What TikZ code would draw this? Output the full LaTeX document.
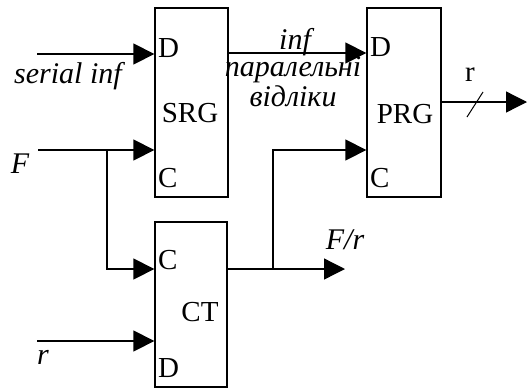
\documentclass[tikz,border=0pt]{standalone}
\usepackage{fontspec}
\setmainfont{Liberation Serif}
\usetikzlibrary{arrows.meta}
\begin{document}
\begin{tikzpicture}[x=1pt,y=-1pt,
  wire/.style={line width=1.3pt},
  arr/.style={wire,-{Triangle[length=21pt,width=21pt]}},
  block/.style={draw,line width=1.3pt,inner sep=0pt},
  lbl/.style={font=\fontsize{29}{32}\selectfont,inner sep=0pt},
  itl/.style={font=\fontsize{30}{33}\selectfont\itshape,inner sep=0pt}]
\useasboundingbox (0,0) rectangle (527,389);
% blocks
\node[block,minimum width=73pt,minimum height=189pt] (srg) at (191.5,102.5) {};
\node[block,minimum width=74pt,minimum height=189pt] (prg) at (404,102.5) {};
\node[block,minimum width=72pt,minimum height=165pt] (ct) at (191,304.5) {};
\node[lbl] (srgt) at (190,113) {SRG};
\node[lbl] (prgt) at (405,114) {PRG};
\node[lbl] (ctt) at (200,312) {CT};
\node[lbl,anchor=west] (srgd) at (158,48) {D};
\node[lbl,anchor=west] (srgc) at (158,178) {C};
\node[lbl,anchor=west] (prgd) at (370,47) {D};
\node[lbl,anchor=west] (prgc) at (370,178) {C};
\node[lbl,anchor=west] (ctc) at (158,260) {C};
\node[lbl,anchor=west] (ctd) at (158,368) {D};
% input coordinates
\coordinate (sin) at (37,54);
\coordinate (fin) at (38,150);
\coordinate (rin) at (37,341);
\coordinate (fj) at (107,150);
\coordinate (cj) at (273,269);
\coordinate (fr) at (345,269);
\coordinate (rout) at (527,102);
% wires
\draw[arr] (sin) -- (sin -| srg.west);
\draw[arr] (fin) -- (fin -| srg.west);
\draw[arr] (fj) -- (fj |- cj) -- (cj -| ct.west);
\draw[arr] (rin) -- (rin -| ct.west);
\draw[arr] (cj -| ct.east) -- (fr);
\draw[arr] (cj) -- (cj |- fin) -- (fin -| prg.west);
\draw[arr] (srg.east |- 0,53) -- (prg.west |- 0,53);
\draw[arr] (rout -| prg.east) -- (rout);
\draw[line width=1pt] (467,117) -- (483,92);
% labels
\node[itl] (serial) at (68,76) {serial inf};
\node[itl] (f) at (20,164) {F};
\node[itl] (r) at (43,357) {r};
\node[itl] (inf) at (295,42) {inf};
\node[itl] (par) at (293,70) {паралельні};
\node[itl] (vid) at (293,96) {відліки};
\node[itl] (fr2) at (345,240) {F/r};
\node[lbl] (rr) at (470,75) {r};
\end{tikzpicture}
\end{document}
